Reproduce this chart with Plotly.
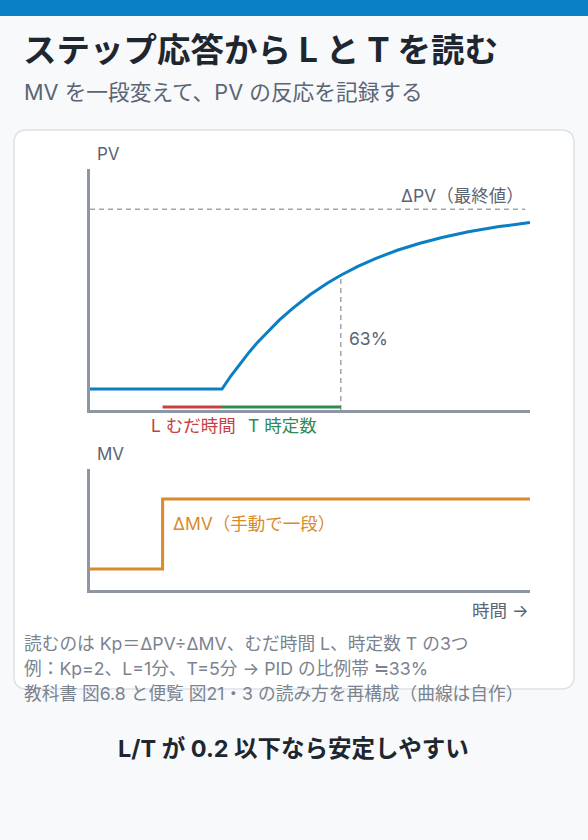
import plotly.graph_objects as go

# ---- data (time in arbitrary drawing units 0..100) ----
pv_t = [0, 30, 32, 34, 36, 38, 40, 43, 46, 50, 54, 57, 61, 65, 70, 75, 80, 86, 93, 100]
pv_v = [0.087, 0.087, 0.141, 0.190, 0.236, 0.279, 0.318, 0.373, 0.421, 0.478, 0.527,
        0.559, 0.597, 0.629, 0.664, 0.692, 0.716, 0.740, 0.761, 0.778]
pv_final = 0.833
pv_final_t = [0, 98.9]
pct63_t = 57
pct63_v = 0.559

mv_t = [0, 16.5, 16.5, 100]
mv_v = [0.174, 0.174, 0.752, 0.752]

step_t = 16.5      # MV step / start of dead time
l_end_t = 30       # end of dead time L
t_end_t = 57       # end of time constant T
bar_level = 0.012

W, H = 588, 840
FONT = "Inter, 'Noto Sans CJK JP', sans-serif"
BLUE = "#0b7fc3"
ORANGE = "#d98b2c"
RED = "#c8413f"
GREEN = "#2f8a55"
AXIS = "#8d96a2"
DASH = "#a0a6ae"
TXT = "#5b6573"
DARK = "#1e2630"
FOOT = "#7b838f"


def px(x):
    return x / W


def py(y):
    return 1 - y / H


fig = go.Figure()

# PV response
fig.add_trace(go.Scatter(x=pv_t, y=pv_v, mode="lines", line=dict(color=BLUE, width=3),
                         cliponaxis=False, hoverinfo="skip", xaxis="x", yaxis="y"))
# final value dashed
fig.add_trace(go.Scatter(x=pv_final_t, y=[pv_final, pv_final], mode="lines",
                         line=dict(color=DASH, width=1.5, dash="5px,4px"),
                         cliponaxis=False, hoverinfo="skip", xaxis="x", yaxis="y"))
# 63% dashed vertical
fig.add_trace(go.Scatter(x=[pct63_t, pct63_t], y=[0, pct63_v], mode="lines",
                         line=dict(color=DASH, width=1.5, dash="5px,4px"),
                         cliponaxis=False, hoverinfo="skip", xaxis="x", yaxis="y"))
# L bar
fig.add_trace(go.Scatter(x=[step_t, l_end_t], y=[bar_level, bar_level], mode="lines",
                         line=dict(color=RED, width=3), cliponaxis=False,
                         hoverinfo="skip", xaxis="x", yaxis="y"))
# T bar
fig.add_trace(go.Scatter(x=[l_end_t, t_end_t], y=[bar_level, bar_level], mode="lines",
                         line=dict(color=GREEN, width=3), cliponaxis=False,
                         hoverinfo="skip", xaxis="x", yaxis="y"))
# MV step
fig.add_trace(go.Scatter(x=mv_t, y=mv_v, mode="lines", line=dict(color=ORANGE, width=3),
                         cliponaxis=False, hoverinfo="skip", xaxis="x2", yaxis="y2"))

axis_common = dict(showline=True, linecolor=AXIS, linewidth=2.5, showgrid=False,
                   zeroline=False, showticklabels=False, ticks="", fixedrange=True)

# card with rounded corners
x0, x1, y0, y1, r = 14, 574, 130, 689, 13
card = (f"M {px(x0 + r)} {py(y0)} L {px(x1 - r)} {py(y0)} "
        f"Q {px(x1)} {py(y0)} {px(x1)} {py(y0 + r)} "
        f"L {px(x1)} {py(y1 - r)} Q {px(x1)} {py(y1)} {px(x1 - r)} {py(y1)} "
        f"L {px(x0 + r)} {py(y1)} Q {px(x0)} {py(y1)} {px(x0)} {py(y1 - r)} "
        f"L {px(x0)} {py(y0 + r)} Q {px(x0)} {py(y0)} {px(x0 + r)} {py(y0)} Z")

shapes = [
    dict(type="rect", xref="paper", yref="paper", x0=0, x1=1, y0=py(16), y1=1,
         fillcolor="#0a80c6", line=dict(width=0), layer="below"),
    dict(type="path", xref="paper", yref="paper", path=card, fillcolor="#ffffff",
         line=dict(color="#dde2e8", width=1.5), layer="below"),
]


def ann(text, x, y, size, color, xanchor="left", bold=False):
    if bold:
        text = f"<b>{text}</b>"
    return dict(text=text, x=px(x), y=py(y), xref="paper", yref="paper",
                xanchor=xanchor, yanchor="middle", showarrow=False,
                font=dict(family=FONT, size=size, color=color))


annotations = [
    ann("ステップ応答から L と T を読む", 21, 50, 33.5, DARK, bold=True),
    ann("MV を一段変えて、PV の反応を記録する", 22, 92, 21.7, TXT),
    ann("PV", 95, 154, 17, TXT),
    ann("ΔPV（最終値）", 526, 195, 17.5, TXT, xanchor="right"),
    ann("63%", 347, 338, 17.5, TXT),
    ann("L むだ時間", 149, 425, 17.5, RED),
    ann("T 時定数", 246, 425, 17.5, GREEN),
    ann("MV", 95, 454, 17, TXT),
    ann("ΔMV（手動で一段）", 171, 523, 17.5, ORANGE),
    ann("時間 →", 531, 610, 17.5, TXT, xanchor="right"),
    ann("読むのは Kp＝ΔPV÷ΔMV、むだ時間 L、時定数 T の3つ", 22, 643, 17.7, FOOT),
    ann("例：Kp=2、L=1分、T=5分 → PID の比例帯 ≒33%", 22, 668, 17.7, FOOT),
    ann("教科書 図6.8 と便覧 図21・3 の読み方を再構成（曲線は自作）", 22, 693, 17.7, FOOT),
    ann("L/T が 0.2 以下なら安定しやすい", 293, 748, 23.5, DARK, xanchor="center", bold=True),
]

fig.update_layout(
    width=W, height=H,
    margin=dict(l=0, r=0, t=0, b=0),
    paper_bgcolor="#f7f9fb",
    plot_bgcolor="rgba(0,0,0,0)",
    showlegend=False,
    xaxis=dict(domain=[px(90), px(530)], range=[0, 100], anchor="y", **axis_common),
    yaxis=dict(domain=[py(410), py(169)], range=[0, 1], anchor="x", **axis_common),
    xaxis2=dict(domain=[px(90), px(530)], range=[0, 100], anchor="y2", **axis_common),
    yaxis2=dict(domain=[py(590), py(469)], range=[0, 1], anchor="x2", **axis_common),
    shapes=shapes,
    annotations=annotations,
    font=dict(family=FONT),
)

fig.write_html("out.html", config={"displayModeBar": False},
               post_script="document.body.style.margin='0';document.body.style.overflow='hidden';")
